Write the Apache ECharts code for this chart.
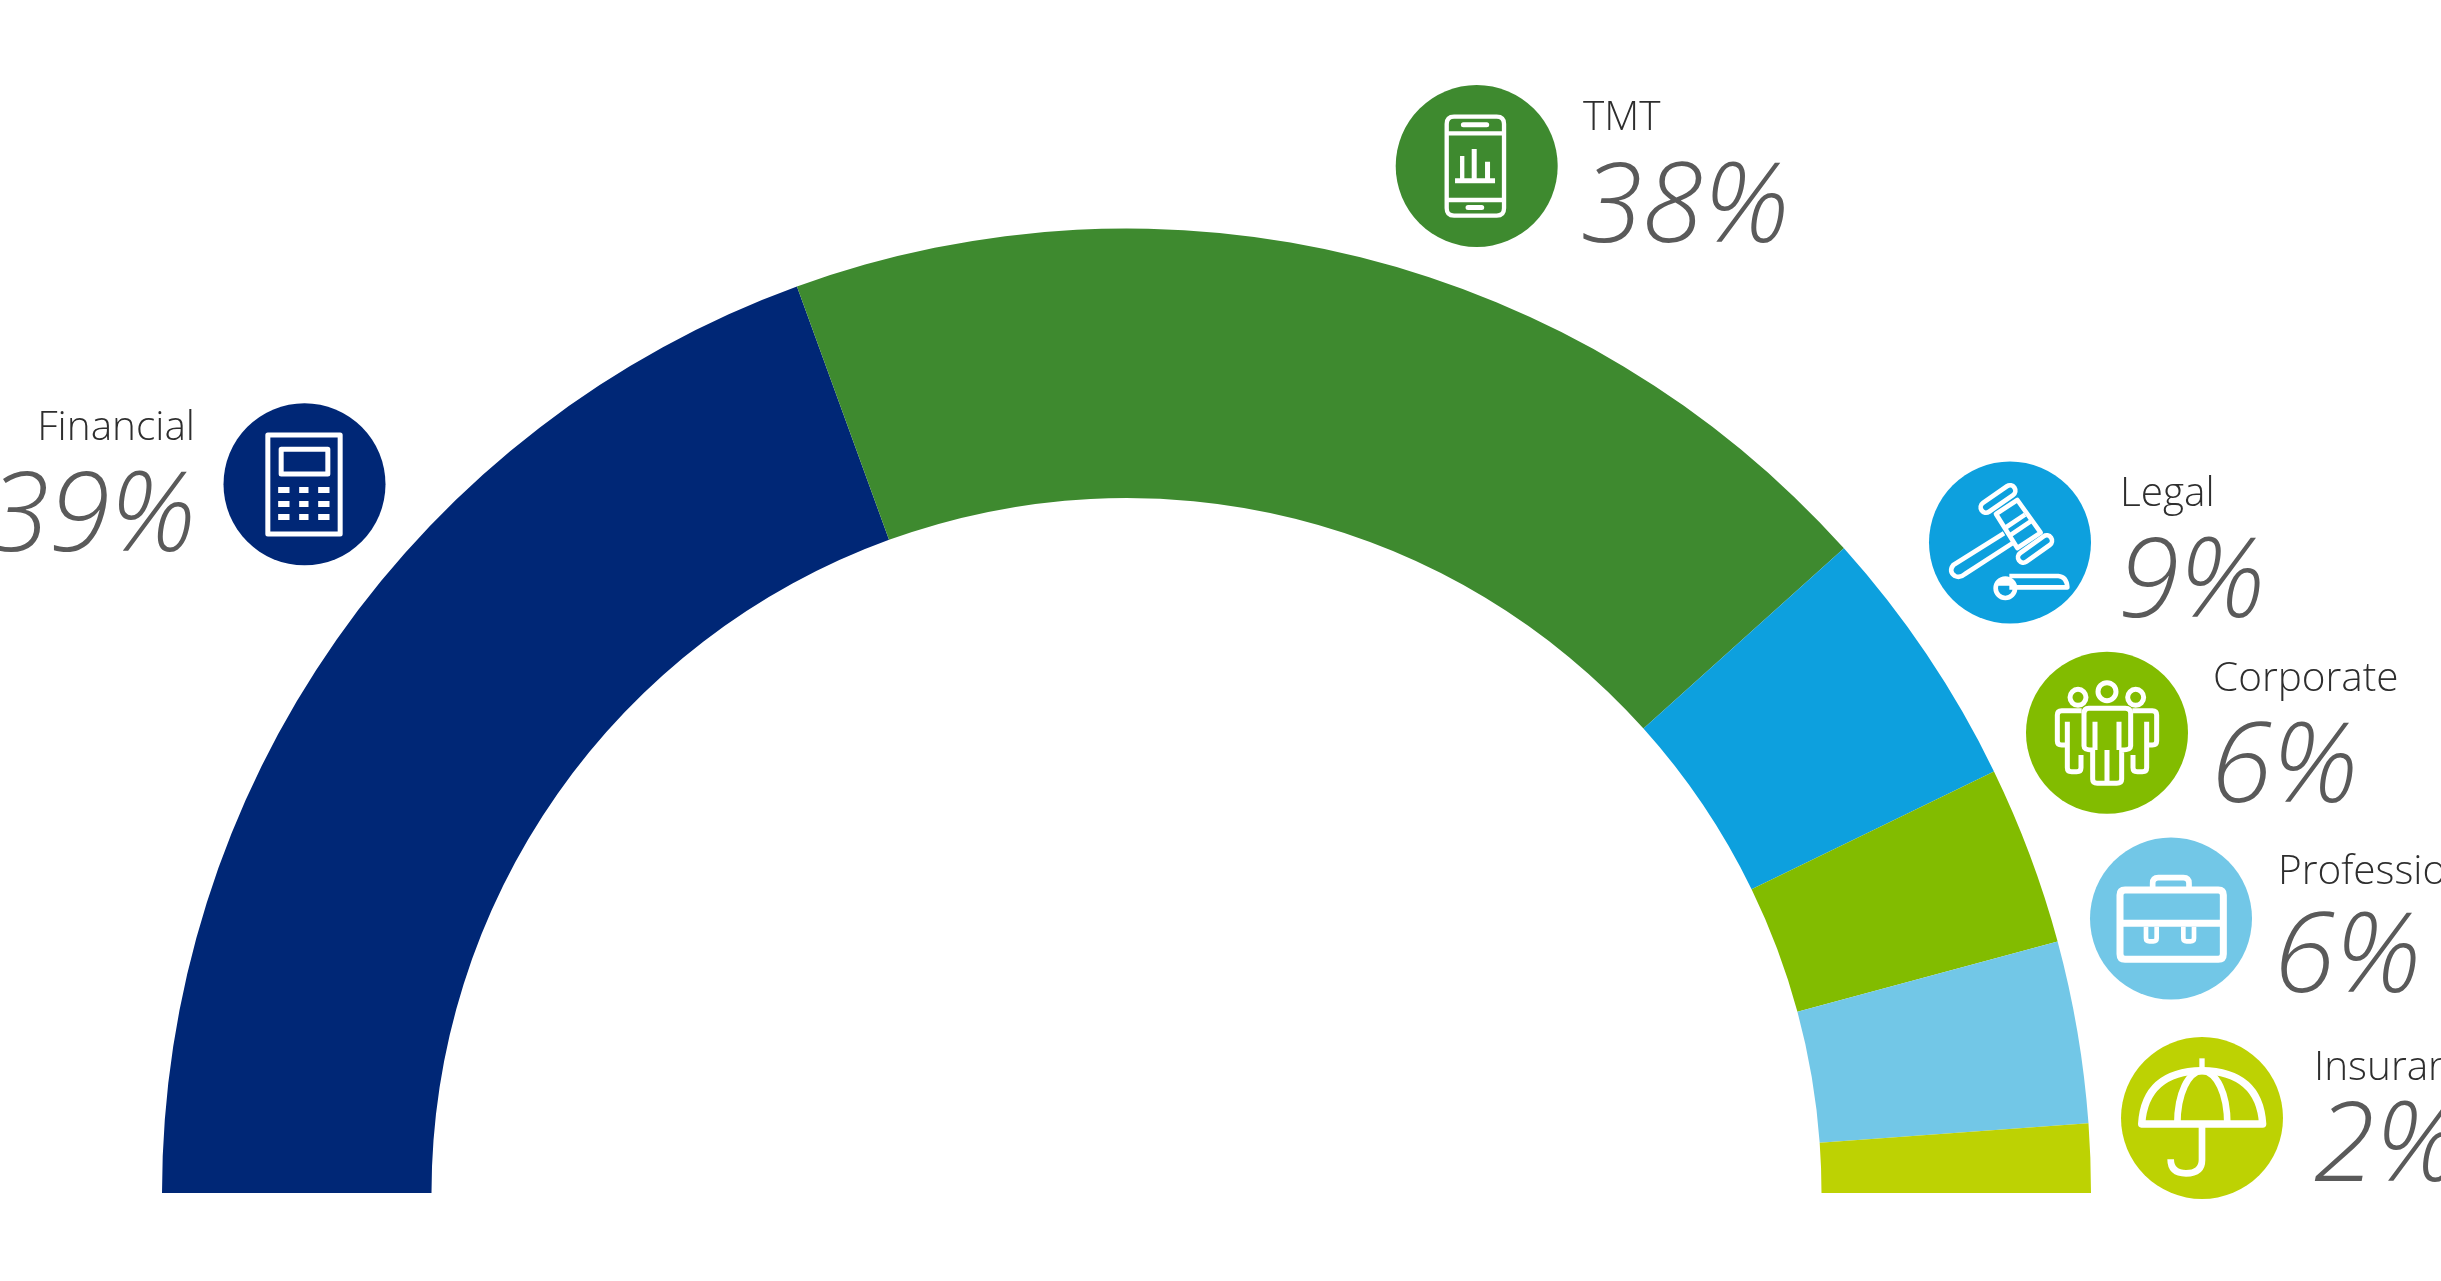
<!DOCTYPE html>
<html><head><meta charset="utf-8">
<style>html,body{margin:0;padding:0;background:#fff;overflow:hidden}#c{width:2441px;height:1281px}</style>
<script src="https://cdn.jsdelivr.net/npm/echarts@6/dist/echarts.min.js"></script>
</head><body><div id="c"></div>
<script>
const categories = ['Financial','TMT','Legal','Corporate','Professional','Insurance'];
const shares = [38.9,37.8,8.9,6.0,6.1,2.3];
const colors = ['#002776','#3E8A2F','#0DA0DE','#82BC00','#72C7E7','#BDD203'];

// label / badge layout, one entry per category
const layout = [
 {cx:304.5,cy:484.3,nameX:195,nameY:428,pctX:196,pctY:519,align:'right',zx:913,zy:313},
 {cx:1476.7,cy:166,nameX:1583,nameY:118,pctX:1581,pctY:210,align:'left',zx:290,zy:288},
 {cx:2010,cy:542.5,nameX:2120,nameY:494,pctX:2118,pctY:585,align:'left',zx:300,zy:277.5},
 {cx:2107,cy:732.8,nameX:2213,nameY:679,pctX:2211,pctY:770,align:'left',zx:291,zy:278.5},
 {cx:2171,cy:918.5,nameX:2278,nameY:872,pctX:2274,pctY:960,align:'left',zx:303,zy:265.5},
 {cx:2202,cy:1118,nameX:2314,nameY:1068,pctX:2314,pctY:1149,align:'left',zx:306,zy:264}
];

const W='#ffffff';
const sp=(d,w,cap)=>({type:'path',shape:{pathData:d},style:{fill:null,stroke:W,lineWidth:w,lineCap:cap||'butt',lineJoin:'round'}});
const fp=(d)=>({type:'path',shape:{pathData:d},style:{fill:W,stroke:null}});
const cp=(d,w,c)=>({type:'path',shape:{pathData:d},style:{fill:null,stroke:c,lineWidth:w,lineCap:'round',lineJoin:'round'}});
const icons = [
 [ sp('M803 165H1020V462H803Z',15), sp('M843 208H983V282H843Z',15),
   fp('M834 321h34v18h-34zM897 321h28v18h-28zM954 321h34v18h-34zM834 363h34v18h-34zM897 363h28v18h-28zM954 363h34v18h-34zM834 402h34v18h-34zM897 402h28v18h-28zM954 402h34v18h-34z') ],
 [ sp('M222 140H350Q372 140 372 162V415Q372 437 350 437H222Q200 437 200 415V162Q200 140 222 140Z',13),
   sp('M200 190H372M200 390H372',13),
   fp('M250 157h70a7.5 7.5 0 0 1 0 15h-70a7.5 7.5 0 0 1 0-15zM264 405h41a7.5 7.5 0 0 1 0 15h-41a7.5 7.5 0 0 1 0-15z'),
   fp('M225 325H345V340H225ZM240 258H253V325H240ZM275 237H290V325H275ZM315 275H330V325H315Z') ],
 [ sp('M258 192L322 150L392 248L322 294Z',14), sp('M285 234L345 194M300 256L362 214',14),
   cp('M228 172L300 122',46,W), cp('M228 172L300 122',18,colors[2]),
   cp('M340 322L410 272',46,W), cp('M340 322L410 272',18,colors[2]),
   sp('M282 250L130 345Q115 365 135 378Q150 385 165 372L310 278',14),
   sp('M298 378H445Q470 380 472 412H298',14), sp('M315 415a29 29 0 1 1-58 0a29 29 0 1 1 58 0M262 400H310',14) ],
 [ sp('M318 155a27 27 0 1 1-54 0a27 27 0 1 1 54 0M228 172a24 24 0 1 1-48 0a24 24 0 1 1 48 0M401 172a24 24 0 1 1-48 0a24 24 0 1 1 48 0',15),
   sp('M236 205H346Q362 205 362 220V318Q362 330 335 330V418Q335 430 320 430H262Q248 430 248 418V330Q222 330 222 318V220Q222 205 236 205Z',15),
   sp('M255 245V330M327 245V330M291 330V425',15),
   sp('M215 212H155Q142 212 142 225V303Q142 315 155 315H172M172 245V383Q172 395 185 395H200Q213 395 213 383V345',15),
   sp('M367 212H427Q440 212 440 225V303Q440 315 427 315H410M410 245V383Q410 395 397 395H382Q369 395 369 383V345',15) ],
 [ sp('M165 180H445Q460 180 460 195V372Q460 388 445 388H165Q150 388 150 372V195Q150 180 165 180Z',21),
   sp('M248 178V160Q248 143 265 143H340Q357 143 357 160V178',17),
   sp('M150 280H460',21),
   sp('M228 290V325Q228 334 238 334H250Q260 334 260 325V290M340 290V325Q340 334 350 334H362Q372 334 372 325V290',14) ],
 [ sp('M125 282H488Q478 125 306 122Q135 125 125 282Z',22),
   sp('M306 85V122',16),
   sp('M232 282C232 190 265 125 306 122C350 125 382 190 382 282',20),
   sp('M306 290V390Q306 430 258 430Q212 430 212 388',20) ]
];

const NAME_FONT = '300 40.5px "Open Sans"';
const PCT_FONT = 'italic 300 111px "Open Sans"';
const graphics = [];
categories.forEach((name,i)=>{
  const L = layout[i];
  graphics.push({type:'text',x:L.nameX,y:L.nameY,silent:true,style:{text:name,font:NAME_FONT,fill:'#2e2e2e',textAlign:L.align,textVerticalAlign:'middle'}});
  graphics.push({type:'text',x:L.pctX,y:L.pctY,silent:true,style:{text:Math.round(shares[i])+'%',font:PCT_FONT,fill:'#5a5a5a',textAlign:L.align,textVerticalAlign:'middle'}});
});

const chart = echarts.init(document.getElementById('c'),null,{renderer:'canvas',width:2441,height:1281});
chart.setOption({
  animation:false,
  backgroundColor:'#ffffff',
  series:[{
    type:'pie',
    center:[1126.5,1193],
    radius:[695,964.5],
    startAngle:180,
    endAngle:360,
    silent:true,
    label:{show:false},
    labelLine:{show:false},
    itemStyle:{borderWidth:0},
    data:categories.map((n,i)=>({name:n,value:shares[i],itemStyle:{color:colors[i]}}))
  },{
    type:'custom',
    coordinateSystem:'none',
    silent:true,
    data:categories.map((n,i)=>i),
    renderItem:(params)=>{
      const i=params.dataIndex, L=layout[i];
      return {type:'group',children:[
        {type:'circle',shape:{cx:L.cx,cy:L.cy,r:81},style:{fill:colors[i]}},
        {type:'group',x:L.cx-L.zx/3,y:L.cy-L.zy/3,scaleX:1/3,scaleY:1/3,children:icons[i]}
      ]};
    }
  }],
  graphic:{elements:graphics}
});
</script></body></html>
